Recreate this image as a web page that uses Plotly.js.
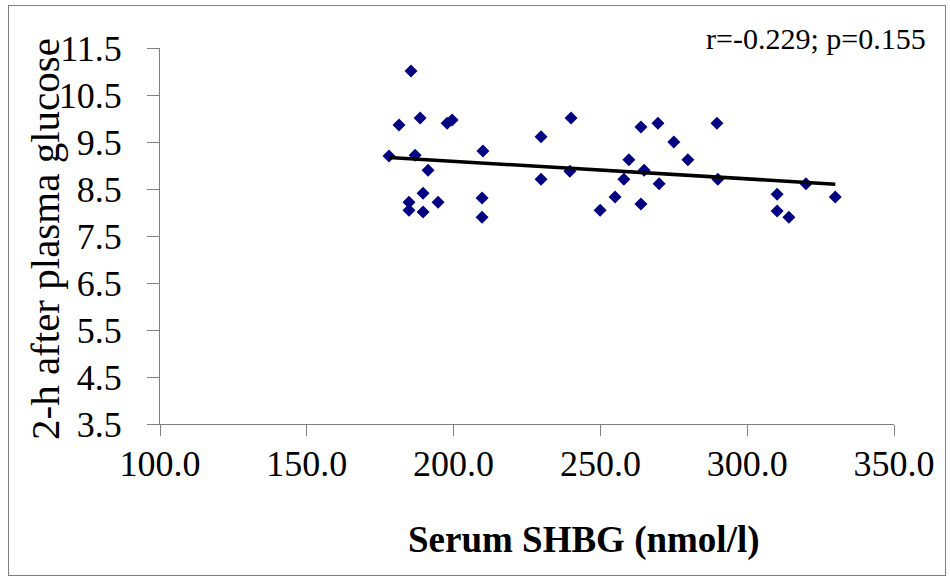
<!DOCTYPE html>
<html>
<head>
<meta charset="utf-8">
<script src="https://cdn.plot.ly/plotly-3.0.1.min.js"></script>
<style>
html,body{margin:0;padding:0;background:#fff;}
#wrap{position:relative;width:950px;height:579px;}
#chart{width:950px;height:579px;}
#frame{position:absolute;left:8px;top:5px;width:936px;height:569px;border:1px solid #808080;pointer-events:none;}
</style>
</head>
<body>
<div id="wrap"><div id="chart"></div><div id="frame"></div></div>
<script>
// Serum SHBG (nmol/l)
var shbg = [178, 181.4, 185.5, 184.8, 184.8, 186.9, 188.6, 189.6, 189.6, 191.3, 194.7, 197.8, 199.5,
            210, 209.7, 209.7, 229.8, 229.8, 240, 239.6, 249.9, 255, 258, 259.7, 263.8, 263.8, 264.9,
            269.6, 270, 275, 279.8, 289.7, 290, 310.2, 310.2, 314.2, 320, 330];
// 2-h after plasma glucose
var glucose = [9.20, 9.86, 11.01, 8.22, 8.05, 9.22, 10.01, 8.41, 8.01, 8.90, 8.22, 9.90, 9.97,
               9.31, 8.31, 7.90, 9.61, 8.71, 10.01, 8.88, 8.05, 8.33, 8.71, 9.12, 9.82, 8.18, 8.90,
               9.90, 8.61, 9.50, 9.12, 9.90, 8.71, 8.39, 8.03, 7.90, 8.61, 8.33];
var xTicks = [100, 150, 200, 250, 300, 350];
var yTicks = [3.5, 4.5, 5.5, 6.5, 7.5, 8.5, 9.5, 10.5, 11.5];
var xTitle = 'Serum SHBG (nmol/l)';
var yTitle = '2-h after plasma glucose';
var statText = 'r=-0.229; p=0.155';

// least-squares trend line
var n = shbg.length, sx = 0, sy = 0, sxx = 0, sxy = 0;
for (var i = 0; i < n; i++) { sx += shbg[i]; sy += glucose[i]; sxx += shbg[i]*shbg[i]; sxy += shbg[i]*glucose[i]; }
var slope = (n*sxy - sx*sy) / (n*sxx - sx*sx);
var icpt = (sy - slope*sx) / n;
var xmin = Math.min.apply(null, shbg), xmax = Math.max.apply(null, shbg);
var trendX = [xmin, xmax];
var trendY = [icpt + slope*xmin, icpt + slope*xmax];

var font = 'Liberation Serif, Times New Roman, serif';
var data = [
  {x: shbg, y: glucose, type: 'scatter', mode: 'markers',
   marker: {symbol: 'diamond', color: '#000080', size: 10}, cliponaxis: false, hoverinfo: 'x+y'},
  {x: trendX, y: trendY, type: 'scatter', mode: 'lines',
   line: {color: '#000000', width: 3.5}, hoverinfo: 'skip'}
];
var layout = {
  width: 950, height: 579,
  margin: {l: 160, r: 56, t: 48, b: 155},
  paper_bgcolor: '#ffffff', plot_bgcolor: '#ffffff',
  showlegend: false,
  font: {family: font, color: '#000000'},
  xaxis: {
    range: [100, 350], tickvals: xTicks, ticktext: xTicks.map(function(v){return v.toFixed(1);}),
    showgrid: false, zeroline: false, showline: true, linecolor: '#808080', linewidth: 1,
    ticks: 'outside', ticklen: 11, tickcolor: '#808080', tickwidth: 1,
    tickfont: {family: font, size: 36, color: '#000'}, ticklabelstandoff: -3
  },
  yaxis: {
    range: [3.5, 11.5], tickvals: yTicks, ticktext: yTicks.map(function(v){return v.toFixed(1);}),
    showgrid: false, zeroline: false, showline: true, linecolor: '#808080', linewidth: 1,
    ticks: 'outside', ticklen: 12, tickcolor: '#808080', tickwidth: 1,
    tickfont: {family: font, size: 36, color: '#000'}, ticklabelstandoff: 18
  },
  annotations: [
    {text: statText, xref: 'paper', yref: 'paper', x: 1.046, y: 1.024,
     xanchor: 'right', yanchor: 'middle', showarrow: false,
     font: {family: font, size: 30, color: '#000'}},
    {text: '<b>' + xTitle + '</b>', xref: 'paper', yref: 'paper', x: 0.578, y: -0.3085,
     xanchor: 'center', yanchor: 'middle', showarrow: false,
     font: {family: font, size: 37, color: '#000'}},
    {text: yTitle, xref: 'paper', yref: 'paper', x: -0.1567, y: 0.492, textangle: -90,
     xanchor: 'center', yanchor: 'middle', showarrow: false,
     font: {family: font, size: 41, color: '#000'}}
  ]
};
Plotly.newPlot('chart', data, layout, {displayModeBar: false, staticPlot: true});
</script>
</body>
</html>
